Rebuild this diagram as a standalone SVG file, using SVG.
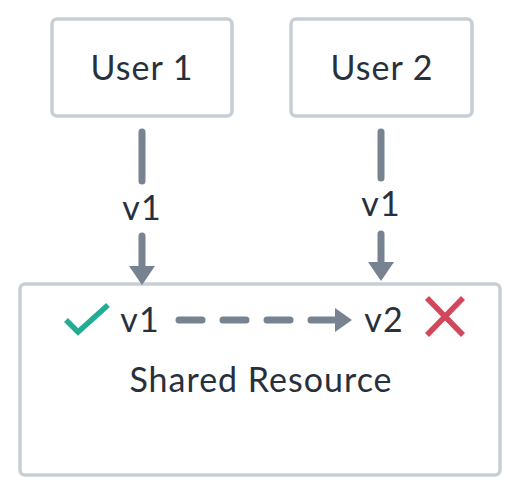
<svg xmlns="http://www.w3.org/2000/svg" width="520" height="496" viewBox="0 0 520 496">
<defs>
<style>
.box{fill:#ffffff;stroke:#c6ced6;stroke-width:3.5}
.t{font-family:Lato,"Noto Sans",sans-serif;fill:#27303b;text-anchor:middle;font-size:34px;letter-spacing:1px}
.conn{stroke:#778391;stroke-width:7;stroke-linecap:round;fill:none}
.head{fill:#778391}
</style>
</defs>
<rect width="520" height="496" fill="#ffffff"/>
<g id="user1">
<rect class="box" x="52" y="19" width="180" height="97" rx="5"/>
<text class="t" x="142" y="80">User 1</text>
</g>
<g id="user2">
<rect class="box" x="291" y="19" width="181" height="97" rx="5"/>
<text class="t" x="382" y="80">User 2</text>
</g>
<g id="shared">
<rect class="box" x="20" y="284" width="480" height="191" rx="5"/>
<text class="t" x="261" y="392">Shared Resource</text>
<text class="t" x="140" y="332">v1</text>
<text class="t" x="384" y="332">v2</text>
<polyline points="66,320 78,332 108,305" fill="none" stroke="#1fae93" stroke-width="5.5"/>
<g stroke="#d3475c" stroke-width="5.5">
<line x1="427" y1="298" x2="463" y2="335"/>
<line x1="463" y1="298" x2="427" y2="335"/>
</g>
</g>
<g id="connectors">
<line class="conn" x1="142" y1="132" x2="142" y2="181"/>
<text class="t" x="142" y="220">v1</text>
<line class="conn" x1="142" y1="236" x2="142" y2="268"/>
<polygon class="head" points="129,266 155,266 142,285"/>
<line class="conn" x1="381" y1="132" x2="381" y2="178"/>
<text class="t" x="381" y="216">v1</text>
<line class="conn" x1="381" y1="234" x2="381" y2="264"/>
<polygon class="head" points="368,262 394,262 381,281"/>
<line class="conn" x1="179" y1="320" x2="338" y2="320" stroke-dasharray="23,21"/>
<polygon class="head" points="335,308 352,320 335,332"/>
</g>
</svg>
